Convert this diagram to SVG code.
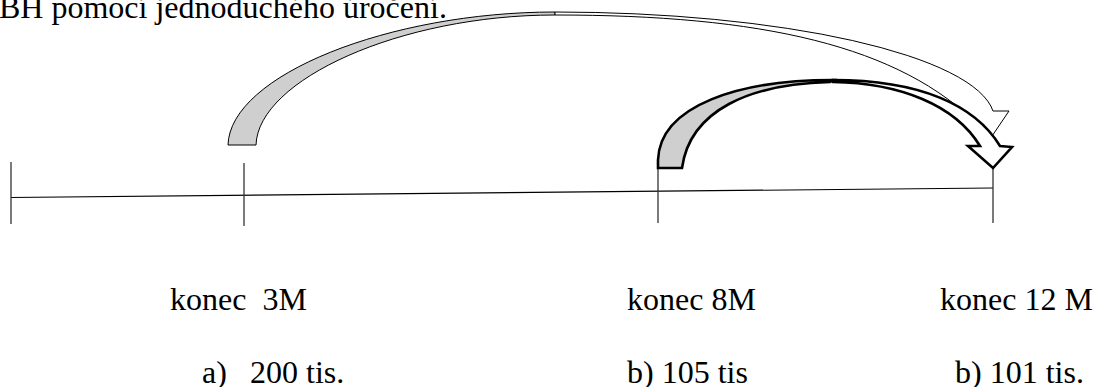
<svg xmlns="http://www.w3.org/2000/svg" width="1095" height="387" viewBox="0 0 1095 387">
<style>
text{font-family:"Liberation Serif","Times New Roman",serif;font-size:32px;fill:#000;white-space:pre}
.tick{stroke:#333;stroke-width:1.3;fill:none}
.axis{stroke:#000;stroke-width:1.2;fill:none}
.a1{stroke:#000;stroke-width:1;stroke-linejoin:miter}
.a2{stroke:#000;stroke-width:2.6;stroke-linejoin:miter}
.shade{fill:#cfcfcf}
.front{fill:#fff}
</style>
<rect width="1095" height="387" fill="#fff"/>
<text id="title" x="-1" y="18" font-family="Liberation Serif, Times New Roman, serif" font-size="30">BH pomocí jednoduchého úročení.</text>
<g id="timeline">
<line class="axis" x1="11" y1="197.5" x2="993" y2="188"/>
<line class="tick" x1="11" y1="162" x2="11" y2="224"/>
<line class="tick" x1="244" y1="163" x2="244" y2="226"/>
<line class="tick" x1="658" y1="166" x2="658" y2="223"/>
<line class="tick" x1="993" y1="168" x2="993" y2="223"/>
</g>
<g id="connectors">
<g id="arrow1">
<path class="a1 shade" d="M228,145 C230,75 390,12 555,12 L555,15 C400,15 258,80 256,145 Z"/>
<path class="a1 front" d="M555,12 A440 108 0 0 1 993,111 L1009,111 L988,142 L970,128 L980,127 C900,45 760,15 555,15 Z"/>
</g>
<g id="arrow2">
<path class="a2 shade" d="M658,168 L658,160 C660,105 740,80 833,80 L830,82 C750,84 690,110 682,168 Z"/>
<path class="a2 front" d="M833,80 C920,80 975,105 1000,146 L1012,147 L993,168 L968,146 L980,146 C955,105 900,83 833,82 Z"/>
</g>
</g>
<g id="labels">
<text id="n3m" x="170" y="310">konec  3M</text>
<text id="n8m" x="627" y="310">konec 8M</text>
<text id="n12m" x="940" y="310">konec 12 M</text>
<text id="va" y="383"><tspan x="202">a)</tspan><tspan x="250">200 tis.</tspan></text>
<text id="vb" x="627" y="383">b) 105 tis</text>
<text id="vc" x="955" y="383">b) 101 tis.</text>
</g>
</svg>
